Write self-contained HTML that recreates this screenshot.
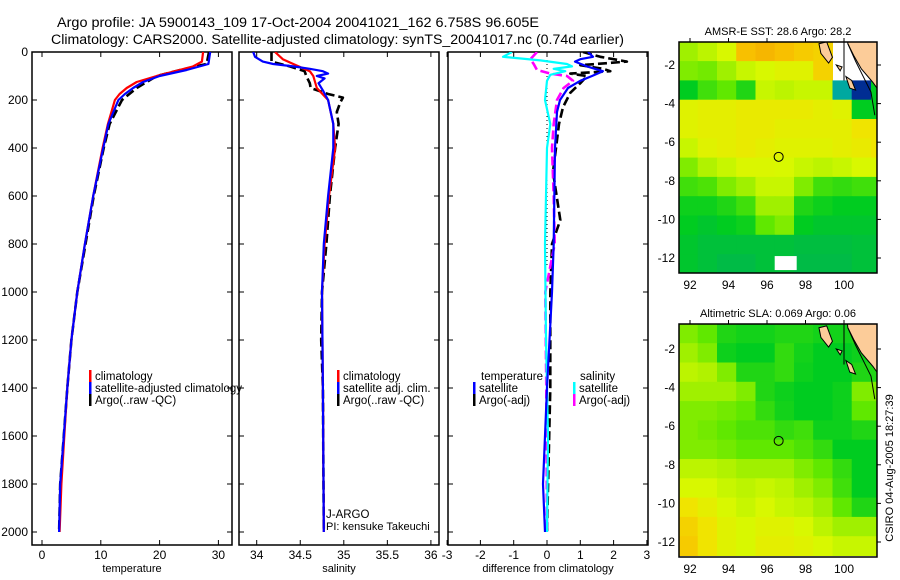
<!DOCTYPE html>
<html><head><meta charset="utf-8"><style>
html,body{margin:0;padding:0;background:#fff}
svg{display:block;font-family:"Liberation Sans",sans-serif}
</style></head><body>
<svg id="chart" width="900" height="580" viewBox="0 0 900 580" xmlns="http://www.w3.org/2000/svg">
<defs>
<clipPath id="c1"><rect x="32" y="52" width="200" height="493"/></clipPath>
<clipPath id="c2"><rect x="239" y="52" width="200" height="493"/></clipPath>
<clipPath id="c3"><rect x="448" y="52" width="200" height="493"/></clipPath>
<clipPath id="m1"><rect x="679" y="42" width="198" height="231"/></clipPath>
<clipPath id="m2"><rect x="679" y="324" width="198" height="233"/></clipPath>
</defs>
<text x="57" y="27" font-size="14.2" textLength="482" lengthAdjust="spacingAndGlyphs">Argo profile: JA 5900143_109 17-Oct-2004 20041021_162 6.758S 96.605E</text>
<text x="51" y="44" font-size="14.2" textLength="573" lengthAdjust="spacingAndGlyphs">Climatology: CARS2000. Satellite-adjusted climatology: synTS_20041017.nc (0.74d earlier)</text>
<g id="g"></g>
</svg>
<script>
// ---------- profile data ----------
const tDepthClim=[0,40,60,100,125,150,175,200,300,400,600,800,1000,1200,1400,1600,1800,2000];
const tClim=[27.4,27.2,25.7,19.5,16.1,14.4,13.2,12.4,11.2,10.3,8.7,7.3,6.0,5.0,4.3,3.8,3.3,3.0];
const tDepthSat=[0,50,75,100,125,150,175,200,300,400,600,800,1000,1200,1400,1600,1800,2000];
const tSat=[28.6,28.3,24.6,20.0,17.2,15.5,14.1,13.0,11.3,10.4,8.7,7.3,6.0,5.0,4.3,3.7,3.1,2.9];
const tDepthArgo=[0,50,75,100,150,200,300,400,600,800,1000,1200,1400,1600,1800,2000];
const tArgo=[28.4,28.0,23.5,19.5,16.1,13.6,11.5,10.5,8.8,7.4,6.0,5.0,4.3,3.7,3.1,2.9];

const sDepthClim=[0,30,50,80,100,150,200,300,400,600,800,1000,1400,2000];
const sClim=[34.21,34.30,34.42,34.61,34.65,34.69,34.82,34.88,34.90,34.83,34.78,34.75,34.76,34.77];
const sDepthSat=[0,20,40,50,60,70,80,90,100,110,130,160,200,250,300,400,600,800,1000,1400,2000];
const sSat=[33.96,33.98,34.07,34.19,34.42,34.61,34.76,34.82,34.69,34.78,34.71,34.76,34.82,34.85,34.88,34.88,34.82,34.77,34.75,34.76,34.77];
const sDepthArgo=[0,40,60,80,100,130,150,175,190,210,250,300,400,600,800,1000,1200,1400,2000];
const sArgo=[34.17,34.17,34.38,34.55,34.57,34.61,34.62,34.82,34.99,34.96,34.92,34.94,34.90,34.84,34.80,34.75,34.74,34.76,34.77];

const dDepthTSat=[0,20,30,40,60,80,100,120,150,200,250,400,800,1000,1400,1600,1800,2000];
const dTSat=[1.23,1.38,1.0,0.84,1.2,1.68,1.35,1.0,0.63,0.39,0.3,0.24,0.2,0.15,0,-0.06,-0.12,-0.06];
const dDepthTArgo=[0,20,30,40,55,70,80,90,100,130,170,230,300,500,700,800,1000,1400,2000];
const dTArgo=[1.08,1.6,2.0,2.4,1.0,1.68,1.9,0.7,1.2,1.0,0.7,0.48,0.36,0.18,0.4,0.15,0.1,0.1,0];
const dDepthSSat=[0,20,35,50,60,70,80,95,120,200,300,400,800,1200,1600,2000];
const dSSat=[-1.05,-1.32,-0.2,0.6,0.75,0.2,0.55,0.1,0,-0.06,0.1,0,-0.06,-0.03,0.03,0];
const dDepthSArgo=[0,30,50,75,90,100,120,150,200,300,400,600,800,1000,1400,2000];
const dSArgo=[-0.3,-0.5,-0.4,-0.3,0.1,0.6,0.78,0.5,0.3,0.2,0.15,0.2,0.23,-0.05,-0.02,0];

const depthTicks=[0,200,400,600,800,1000,1200,1400,1600,1800,2000];
const tTicks=[0,10,20,30];
const sTicks=[34,34.5,35,35.5,36];
const dTicks=[-3,-2,-1,0,1,2,3];

// ---------- map data ----------
const lonTicks=[92,94,96,98,100];
const latTicks=[-2,-4,-6,-8,-10,-12];
const argoLon=96.605, argoLat=-6.758;
const sstGrid=[
[28.65,28.8,28.95,29.55,29.64,29.55,29.46,29.4,null,null,29.7],
[28.5,28.44,28.65,28.86,28.95,29.04,29.04,29.4,null,null,29.55],
[27.9,28.2,28.35,28.05,28.86,28.8,28.86,28.86,27.45,27.06,27.9],
[29.04,29.1,29.1,29.16,29.16,29.16,29.16,29.1,29.04,27.9,27.9],
[29.04,29.1,29.1,29.16,29.16,29.1,29.1,29.1,29.1,29.25,29.25],
[28.86,29.04,29.1,29.16,29.1,29.04,29.04,29.04,29.1,29.16,29.25],
[28.5,28.74,28.86,28.98,28.98,28.95,28.86,28.8,28.86,28.95,28.95],
[28.2,28.26,28.5,28.65,28.86,28.86,28.5,28.2,28.14,28.2,28.2],
[27.96,27.96,28.05,28.2,28.65,28.65,28.05,27.96,27.9,27.9,27.9],
[27.9,27.84,27.9,27.96,28.35,28.5,27.9,27.84,27.84,27.84,27.84],
[27.84,27.78,27.78,27.78,27.78,27.78,27.75,27.75,27.75,27.78,27.78],
[27.84,27.78,27.72,27.72,27.78,27.78,27.72,27.72,27.72,27.78,27.78]];
const slaGrid=[
[0.5,0.45,0.35,0.33,0.33,0.35,0.35,0.33,0.33,0.35,0.35],
[0.55,0.5,0.32,0.3,0.3,0.38,0.33,0.3,0.3,0.32,0.35],
[0.6,0.58,0.5,0.35,0.35,0.38,0.32,0.3,0.3,0.35,0.35],
[0.55,0.55,0.55,0.5,0.35,0.32,0.3,0.3,0.32,0.5,0.5],
[0.5,0.5,0.48,0.45,0.38,0.33,0.3,0.3,0.32,0.45,0.45],
[0.5,0.48,0.45,0.42,0.42,0.38,0.4,0.32,0.32,0.35,0.35],
[0.5,0.5,0.48,0.45,0.45,0.45,0.42,0.38,0.3,0.3,0.3],
[0.6,0.6,0.58,0.55,0.55,0.55,0.5,0.45,0.38,0.3,0.3],
[0.65,0.65,0.62,0.6,0.62,0.6,0.55,0.5,0.4,0.3,0.3],
[0.75,0.7,0.65,0.62,0.65,0.62,0.6,0.55,0.45,0.35,0.35],
[0.8,0.75,0.68,0.65,0.68,0.68,0.65,0.6,0.55,0.55,0.55],
[0.82,0.75,0.68,0.65,0.7,0.7,0.68,0.65,0.62,0.62,0.62]];

const NS='http://www.w3.org/2000/svg';
const G=document.getElementById('g');
function mk(tag,attrs,parent){const e=document.createElementNS(NS,tag);for(const k in attrs)e.setAttribute(k,attrs[k]);(parent||G).appendChild(e);return e;}
function txt(x,y,s,size,anchor,parent){const t=mk('text',{x:x,y:y,'font-size':size,'text-anchor':anchor||'middle'},parent);t.textContent=s;return t;}

const yD=d=>52+d*0.24;
const xT=v=>42+v*5.88;
const xS=v=>256.7+(v-34)*87.1;
const xDf=v=>547+v*33.3;

const panels=[
 {x0:32,fx:xT,ticks:tTicks,title:'temperature',name:'temperature-panel',clip:'c1'},
 {x0:239,fx:xS,ticks:sTicks,title:'salinity',name:'salinity-panel',clip:'c2'},
 {x0:448,fx:xDf,ticks:dTicks,title:'difference from climatology',name:'difference-panel',clip:'c3'}];
panels.forEach((p,i)=>{
 const g=mk('g',{});
 
 
 const r=mk('rect',{x:p.x0,y:52,width:200,height:493,fill:'none',stroke:'#000','stroke-width':1.5},g);
 
 
 depthTicks.forEach(d=>{
  mk('line',{x1:p.x0,x2:p.x0+5,y1:yD(d),y2:yD(d),stroke:'#000'},g);
  mk('line',{x1:p.x0+200,x2:p.x0+195,y1:yD(d),y2:yD(d),stroke:'#000'},g);
  if(i===0){const t=txt(28,yD(d)+4,String(d),12,'end',g);
   
   }
 });
 p.ticks.forEach(v=>{
  const x=p.fx(v);
  mk('line',{x1:x,x2:x,y1:545,y2:540,stroke:'#000'},g);
  mk('line',{x1:x,x2:x,y1:52,y2:57,stroke:'#000'},g);
  const t=txt(x,559,String(v),12,'middle',g);
  
  
 });
 const tt=txt(p.x0+100,572,p.title,11,'middle',g);
 
 
});
const zl=mk('line',{x1:xDf(0),x2:xDf(0),y1:52,y2:yD(900),stroke:'#000','stroke-dasharray':'1,3'});



function series(depths,vals,fx,color,dashed,clip,name){
 const pts=depths.map((d,k)=>fx(vals[k]).toFixed(1)+','+yD(d).toFixed(1)).join(' ');
 const a={points:pts,fill:'none',stroke:color,'stroke-width':dashed?2.6:2.2,'clip-path':'url(#'+clip+')','stroke-linejoin':'round'};
 if(dashed)a['stroke-dasharray']='9,4';
 const l=mk('polyline',a);
 
 
}
series(tDepthArgo,tArgo,xT,'#000',true,'c1','temperature-argo-line');
series(tDepthClim,tClim,xT,'#f00',false,'c1','temperature-climatology-line');
series(tDepthSat,tSat,xT,'#00f',false,'c1','temperature-satellite-line');
series(sDepthArgo,sArgo,xS,'#000',true,'c2','salinity-argo-line');
series(sDepthClim,sClim,xS,'#f00',false,'c2','salinity-climatology-line');
series(sDepthSat,sSat,xS,'#00f',false,'c2','salinity-satellite-line');
series(dDepthTArgo,dTArgo,xDf,'#000',true,'c3','temp-diff-argo-line');
series(dDepthSArgo,dSArgo,xDf,'#f0f',true,'c3','sal-diff-argo-line');
series(dDepthSSat,dSSat,xDf,'#0ff',false,'c3','sal-diff-satellite-line');
series(dDepthTSat,dTSat,xDf,'#00f',false,'c3','temp-diff-satellite-line');

function legend(x,y,color,label){
 const g=mk('g',{});
 
 
 mk('rect',{x:x,y:y-10,width:2.5,height:12,fill:color},g);
 txt(x+6,y,label,11.5,'start',g);
}
legend(89,380,'#f00','climatology');legend(89,392,'#00f','satellite-adjusted climatology');legend(89,404,'#000','Argo(..raw -QC)');
legend(337,380,'#f00','climatology');legend(337,392,'#00f','satellite adj. clim.');legend(337,404,'#000','Argo(..raw -QC)');
const lt=txt(481,380,'temperature',11.5,'start');
legend(473,392,'#00f','satellite');legend(473,404,'#000','Argo(-adj)');
const ls=txt(580,380,'salinity',11.5,'start');
legend(573,392,'#0ff','satellite');legend(573,404,'#f0f','Argo(-adj)');
const j1=txt(326,518,'J-ARGO',11.5,'start');
const j2=txt(326,530,'PI: kensuke Takeuchi',11,'start');

const stops=[[0,[0,16,128]],[0.1,[0,160,224]],[0.2,[0,176,96]],[0.3,[0,204,32]],[0.45,[96,232,0]],[0.55,[160,240,0]],[0.65,[216,248,0]],[0.75,[240,228,0]],[0.85,[248,192,0]],[1,[240,144,0]]];
function cmap(v){v=Math.max(0,Math.min(1,v));for(let i=1;i<stops.length;i++){if(v<=stops[i][0]){const a=stops[i-1],b=stops[i],t=(v-a[0])/(b[0]-a[0]);const c=a[1].map((q,k)=>Math.round(q+(b[1][k]-q)*t));return 'rgb('+c.join(',')+')';}}return 'rgb(240,144,0)';}

function drawMap(m){
 const xL=lon=>690+(lon-92)*19.25;
 const yL=lat=>m.y2+(lat+2)*(-19.3);
 const g=mk('g',{});
 
 
 const cg=mk('g',{'clip-path':'url(#'+m.clip+')'},g);
 m.grid.forEach((row,r)=>row.forEach((v,c)=>{
  if(v===null)return;
  const lat0=m.latTop-r, lon0=91.4+c;
  const cell=mk('rect',{x:xL(lon0).toFixed(1),y:yL(lat0).toFixed(1),width:19.8,height:19.8,fill:cmap(m.norm(v))},cg);
  
  
 }));
 const land=mk('polygon',{points:[[100.1,0],[102,0],[102,-3.6],[101.5,-2.9],[100.9,-2.2],[100.5,-1.5],[100.2,-0.9]].map(p=>xL(p[0])+','+yL(p[1])).join(' '),fill:'#fccc99',stroke:'#000','stroke-width':1},cg);
 
 
 const coast=mk('polyline',{points:[[100.2,-0.9],[100.6,-1.8],[101.0,-2.6],[101.4,-3.4],[101.6,-4.6]].map(p=>xL(p[0])+','+yL(p[1])).join(' '),fill:'none',stroke:'#000','stroke-width':1},cg);
 
 
 [[[98.7,-0.9],[99.1,-0.8],[99.4,-1.6],[99.2,-1.9],[98.8,-1.4]],[[99.6,-2.0],[99.9,-2.1],[99.8,-2.3]],[[100.1,-2.6],[100.4,-2.8],[100.6,-3.3],[100.3,-3.2]]].forEach(isl=>{
  const p=mk('polygon',{points:isl.map(q=>xL(q[0])+','+yL(q[1])).join(' '),fill:'#fccc99',stroke:'#000','stroke-width':1},cg);
  
  
 });
 mk('line',{x1:xL(100),x2:xL(100),y1:m.top-4,y2:yL(-2.8),stroke:'#000'},g);
 const fr=mk('rect',{x:679,y:m.top,width:198,height:m.h,fill:'none',stroke:'#000','stroke-width':1.5},g);
 
 
 lonTicks.forEach(l=>{
  mk('line',{x1:xL(l),x2:xL(l),y1:m.top,y2:m.top-4,stroke:'#000'},g);
  const t=txt(xL(l),m.top+m.h+16,String(l),12,'middle',g);
  
  
 });
 latTicks.forEach(l=>{
  mk('line',{x1:877,x2:881,y1:yL(l),y2:yL(l),stroke:'#000'},g);
  const t=txt(675,yL(l)+4,String(l),12,'end',g);
  
  
 });
 const c=mk('circle',{cx:xL(argoLon),cy:yL(argoLat),r:4.5,fill:'none',stroke:'#000','stroke-width':1},g);
 
 
 const ti=txt(778,m.top-7,m.title,11,'middle',g);
 
 
 return {xL,yL,g};
}
const m1=drawMap({grid:sstGrid,norm:v=>(v-27)/3,latTop:-0.8,y2:65,top:42,h:231,clip:'m1',name:'sst-map',title:'AMSR-E SST: 28.6 Argo: 28.2'});
const wb=mk('rect',{x:m1.xL(96.4),y:m1.yL(-11.9),width:22,height:14,fill:'#fff'},m1.g);


const m2=drawMap({grid:slaGrid,norm:v=>v,latTop:-0.7,y2:349,top:324,h:233,clip:'m2',name:'sla-map',title:'Altimetric SLA: 0.069 Argo: 0.06'});
const cs=mk('text',{x:0,y:0,'font-size':11,'text-anchor':'middle',transform:'translate(893,468) rotate(-90)'});
cs.textContent='CSIRO 04-Aug-2005 18:27:39';


</script>
</body></html>
